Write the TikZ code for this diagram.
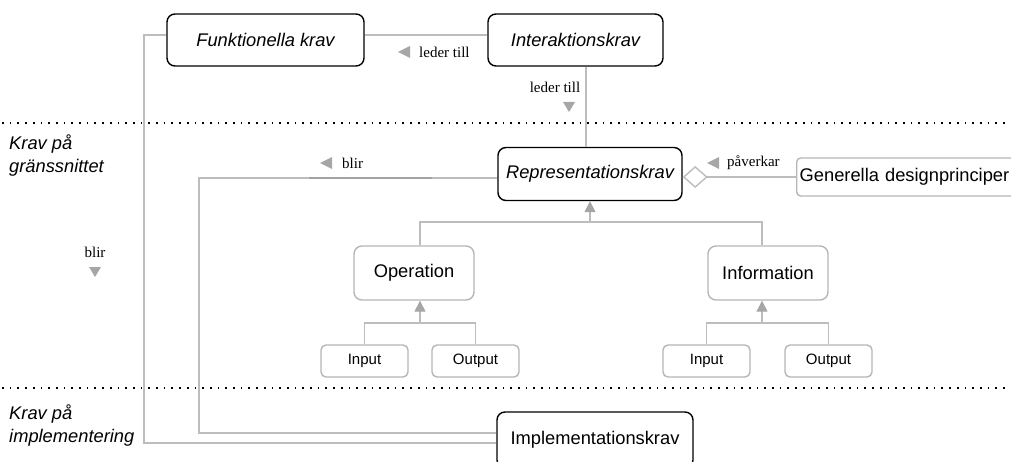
\documentclass[tikz,border=0pt]{standalone}
\usepackage{fontspec}
\setmainfont{Liberation Serif}
\setsansfont{Liberation Sans}
\usetikzlibrary{arrows.meta,calc}

\definecolor{edgegray}{HTML}{BDBDBD}
\definecolor{darkedge}{HTML}{A3A3A3}
\definecolor{tipgray}{HTML}{A6A6A6}
\definecolor{boxgray}{HTML}{B6B6B6}

\begin{document}
\begin{tikzpicture}[x=1pt,y=-1pt,
  reqbox/.style={draw=black, line width=1.4pt, rounded corners=8pt, fill=white,
    inner sep=0pt, font=\sffamily\itshape\fontsize{18.3}{21}\selectfont},
  implbox/.style={reqbox, font=\sffamily\fontsize{18.3}{21}\selectfont},
  catbox/.style={draw=boxgray, line width=1.4pt, rounded corners=8pt, fill=white,
    inner sep=0pt, font=\sffamily\fontsize{18.3}{21}\selectfont},
  leafbox/.style={draw=boxgray, line width=1.4pt, rounded corners=5pt, fill=white,
    inner sep=0pt, minimum width=87pt, minimum height=32pt,
    font=\sffamily\fontsize{15}{18}\selectfont},
  principle/.style={draw=boxgray, line width=1.4pt, rounded corners=4pt, fill=white,
    inner xsep=3pt, inner ysep=0pt, minimum height=38pt, anchor=west,
    text width=216pt, align=left,
    font=\sffamily\fontsize{18.3}{21}\selectfont},
  edge/.style={draw=edgegray, line width=1.4pt},
  genarrow/.style={edge, -{Triangle[width=11pt,length=11pt,fill=tipgray,color=tipgray]}},
  rolelabel/.style={inner sep=0pt, font=\rmfamily\fontsize{15}{18}\selectfont},
  sidelabel/.style={inner sep=0pt, align=left, anchor=west,
    font=\sffamily\itshape\fontsize{18.3}{23}\selectfont},
  sep/.style={draw=black, line width=1.7pt, dash pattern=on 1.7pt off 6pt},
  marker/.style={fill=tipgray}
]
\useasboundingbox (0,0) rectangle (1011,462);

% level separators
\draw[sep] (2,123) -- (1011,123);
\draw[sep] (2,388) -- (1011,388);

% level labels
\node[sidelabel] (lvlui) at (9,156) {Krav på\\gränssnittet};
\node[sidelabel] (lvlimpl) at (9,426) {Krav på\\implementering};

% connector corner points
\coordinate (lx) at (586,0);
\coordinate (fk) at (144,443);
\coordinate (rb) at (199,178);
\coordinate (ib) at (199,433);
\coordinate (gj) at (590,222);
\coordinate (opx) at (420,323);
\coordinate (infx) at (762,323);

% requirement boxes
\node[reqbox, minimum width=197pt, minimum height=52pt] (funk) at (265.5,40) {Funktionella krav};
\node[reqbox, minimum width=175pt, minimum height=52pt] (inter) at (575.5,40) {Interaktionskrav};
\node[reqbox, minimum width=184pt, minimum height=53pt] (rep) at (590,174) {Representationskrav};
\node[implbox, minimum width=196pt, minimum height=56pt] (impl) at (595,440) {Implementationskrav};
\node[principle] (gen) at (796,177) {Generella designprinciper};

% categories and leaves
\node[catbox, minimum width=120pt, minimum height=54pt] (op) at (414,273) {Operation};
\node[catbox, minimum width=120pt, minimum height=54pt] (info) at (768,273) {Information};
\node[leafbox] (opin) at (364.5,361) {Input};
\node[leafbox] (opout) at (475.5,361) {Output};
\node[leafbox] (infin) at (706.5,361) {Input};
\node[leafbox] (infout) at (828.5,361) {Output};

% leder till: Interaktionskrav -> Funktionella krav
\draw[edge] ([yshift=5pt]funk.east) -- ([yshift=5pt]inter.west);
\fill[marker] (410,46) -- (410,58) -- (398,52) -- cycle;
\node[rolelabel, anchor=west] (ledh) at (419,52) {leder till};

% leder till: Interaktionskrav -> Representationskrav
\draw[edge] (inter.south -| lx) -- (rep.north -| lx);
\node[rolelabel] (ledv) at (555,87) {leder till};
\fill[marker] (563,102) -- (575,102) -- (569,112) -- cycle;

% påverkar: Generella designprinciper -> Representationskrav
\draw[edge, -{Diamond[open,length=25pt,width=22pt,fill=white]}] (gen.west) -- (rep.east |- gen.west);
\fill[marker] (719,157) -- (719,169) -- (707,163) -- cycle;
\node[rolelabel, anchor=west] (pav) at (727,163) {påverkar};

% blir: Representationskrav -> Implementationskrav
\draw[edge] (rep.west |- rb) -- (rb) -- (ib) -- (ib -| impl.west);
\draw[draw=darkedge, line width=1.4pt] (309,178) -- (432,178);
\fill[marker] (332,157) -- (332,169) -- (320,163) -- cycle;
\node[rolelabel, anchor=west] (blirh) at (342,163) {blir};

% blir: Funktionella krav -> Implementationskrav
\draw[edge] ([yshift=5pt]funk.west) -| (fk) -- (fk -| impl.west);
\node[rolelabel] (blirv) at (95,252) {blir};
\fill[marker] (89,267) -- (101,267) -- (95,277) -- cycle;

% specialisation of Representationskrav
\draw[edge] (op.north -| opx) |- (gj) -| (info.north -| infx);
\draw[genarrow] (gj) -- (gj |- rep.south);

% specialisation of Operation
\draw[edge] (opin.north) |- (opx) -| (opout.north);
\draw[genarrow] (opx) -- (op.south -| opx);

% specialisation of Information
\draw[edge] (infin.north) |- (infx) -| (infout.north);
\draw[genarrow] (infx) -- (info.south -| infx);
\end{tikzpicture}
\end{document}
